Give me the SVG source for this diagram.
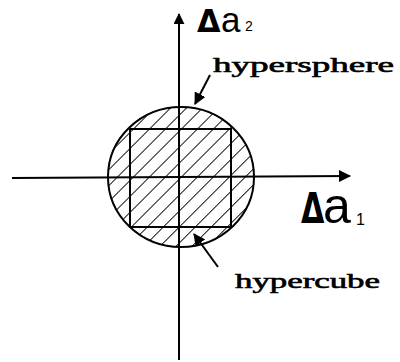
<svg xmlns="http://www.w3.org/2000/svg" width="400" height="362" viewBox="0 0 400 362">
  <style>
    .ln { stroke: #000; stroke-width: 2; fill: none; }
    .lbl { font-family: "Liberation Serif", "DejaVu Serif", serif; font-size: 21px; fill: #000; stroke: #000; stroke-width: 0.6; }
    .delta { font-family: "DejaVu Sans", sans-serif; font-weight: bold; fill: #000; }
    .var { font-family: "Liberation Sans", Arial, sans-serif; fill: #000; }
  </style>
  <defs>
    <pattern id="hatch" patternUnits="userSpaceOnUse" width="11.3" height="11.3" patternTransform="rotate(45 181 177)">
      <line x1="0" y1="0" x2="0" y2="11.3" stroke="#000" stroke-width="1.8"/>
    </pattern>
    <marker id="ah" viewBox="0 0 12 12" refX="11" refY="6" markerUnits="userSpaceOnUse" markerWidth="12" markerHeight="12" orient="auto">
      <path d="M0,0 L12,6 L0,12 z" fill="#000"/>
    </marker>
    <marker id="ahs" viewBox="0 0 12 12" refX="11" refY="6" markerUnits="userSpaceOnUse" markerWidth="11" markerHeight="11" orient="auto">
      <path d="M0,0 L12,6 L0,12 z" fill="#000"/>
    </marker>
  </defs>

  <g id="hypersphere">
    <ellipse cx="181" cy="177" rx="73" ry="70" fill="url(#hatch)" stroke="#000" stroke-width="2"/>
    <text class="lbl" x="213" y="72" textLength="181" lengthAdjust="spacingAndGlyphs">hypersphere</text>
  </g>

  <g id="hypercube">
    <rect x="130" y="129" width="101" height="98" class="ln"/>
    <text class="lbl" x="235" y="288" textLength="145" lengthAdjust="spacingAndGlyphs">hypercube</text>
  </g>

  <g id="axis-a1">
    <line x1="12" y1="178" x2="350" y2="176" class="ln" marker-end="url(#ah)"/>
    <text class="delta" transform="translate(301 223) scale(0.72 1)" font-size="42">Δ</text>
    <text class="var" x="323" y="223" font-size="50">a</text>
    <text class="var" x="356" y="225" font-size="16">1</text>
  </g>

  <g id="axis-a2">
    <line x1="179" y1="360" x2="179" y2="14" class="ln" marker-end="url(#ahs)"/>
    <text class="delta" transform="translate(197 32) scale(0.95 1)" font-size="32">Δ</text>
    <text class="var" x="221" y="32" font-size="35">a</text>
    <text class="var" x="245" y="31" font-size="14">2</text>
  </g>

  <g id="connectors">
    <line x1="210" y1="75" x2="195" y2="104" class="ln" marker-end="url(#ah)"/>
    <line x1="218" y1="267" x2="194" y2="234" class="ln" marker-end="url(#ah)"/>
  </g>
</svg>
